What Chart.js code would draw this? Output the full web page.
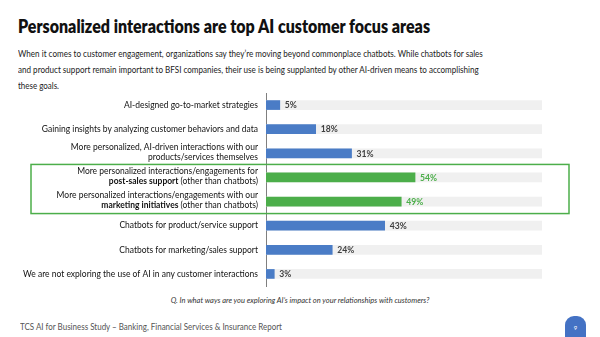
<!DOCTYPE html>
<html>
<head>
<meta charset="utf-8">
<script src="https://cdn.jsdelivr.net/npm/chart.js@4.4.0/dist/chart.umd.min.js"></script>
<style>
  body { margin: 0; width: 600px; height: 337px; overflow: hidden; background: #fff; font-family: Lato, sans-serif; position: relative; }
  .fit { position: absolute; margin: 0; white-space: nowrap; transform-origin: 0 0; line-height: 1; }
  #title { left: 18px; top: 16px; font-size: 19px; font-weight: 800; color: #111; }
  .sub { left: 18px; font-size: 10px; color: #222; }
  #question { position: absolute; top: 296px; left: 0; width: 600px; text-align: center; font-style: italic; font-size: 7.5px; color: #333; }
  #footer { left: 20px; top: 322px; font-size: 9px; color: #555; }
  #page { position: absolute; left: 565px; top: 316px; width: 21px; height: 21px; background: #4472c4; border-radius: 9px 9px 0 0; color: #fff; font-size: 6px; text-align: center; line-height: 24px; }
  #wrap { position: absolute; left: 0; top: 90px; width: 600px; height: 200px; }
</style>
</head>
<body>
<h1 id="title" class="fit" data-w="412">Personalized interactions are top AI customer focus areas</h1>
<div class="fit sub" style="top:48px" data-w="465">When it comes to customer engagement, organizations say they’re moving beyond commonplace chatbots. While chatbots for sales</div>
<div class="fit sub" style="top:64px" data-w="461">and product support remain important to BFSI companies, their use is being supplanted by other AI-driven means to accomplishing</div>
<div class="fit sub" style="top:80px" data-w="41">these goals.</div>
<div id="wrap"><canvas id="barChart"></canvas></div>
<div id="question">Q. In what ways are you exploring AI’s impact on your relationships with customers?</div>
<div id="footer" class="fit" data-w="262">TCS AI for Business Study – Banking, Financial Services &amp; Insurance Report</div>
<div id="page">9</div>
<script>
// labels: each entry is a list of lines, **text** is bold
const categories = [
  ['AI-designed go-to-market strategies'],
  ['Gaining insights by analyzing customer behaviors and data'],
  ['More personalized, AI-driven interactions with our', 'products/services themselves'],
  ['More personalized interactions/engagements for', '**post-sales support** (other than chatbots)'],
  ['More personalized interactions/engagements with our', '**marketing initiatives** (other than chatbots)'],
  ['Chatbots for product/service support'],
  ['Chatbots for marketing/sales support'],
  ['We are not exploring the use of AI in any customer interactions'],
];
const values = [5, 18, 31, 54, 49, 43, 24, 3];
const fullScale = [100, 100, 100, 100, 100, 100, 100, 100];
const highlighted = [3, 4];

const BLUE = '#4a7cc6';
const GREEN = '#4cae4a';

// squeeze the html lines horizontally to the widths seen in the reference
document.querySelectorAll('.fit').forEach(el => {
  const w = el.getBoundingClientRect().width;
  el.style.transform = 'scaleX(' + (el.dataset.w / w).toFixed(3) + ')';
});

const barColors = values.map((v, i) => highlighted.includes(i) ? GREEN : BLUE);

const ctx = document.getElementById('barChart').getContext('2d');

// label font is a bit taller than Lato's width allows, so squeeze it to ~235px for the longest line
const labelSize = 8.6;
ctx.font = labelSize + 'px Lato';
const squeeze = Math.min(1, 235 / ctx.measureText(categories[7][0]).width);

const labelPlugin = {
  id: 'labels',
  afterDraw(chart) {
    const c = chart.ctx;
    const y = chart.scales.y;
    const x = chart.scales.x;
    const right = x.left - 8;
    c.save();
    c.textBaseline = 'middle';
    c.textAlign = 'left';
    categories.forEach((lines, i) => {
      const cy = y.getPixelForValue(i);
      lines.forEach((line, j) => {
        const ly = cy + (j - (lines.length - 1) / 2) * 10 - (lines.length > 1 ? 1.5 : 0);
        const parts = line.split('**');
        let total = 0;
        parts.forEach((p, k) => {
          c.font = (k % 2 ? '700 ' : '400 ') + labelSize + 'px Lato';
          total += c.measureText(p).width;
        });
        c.save();
        c.translate(right, ly);
        c.scale(squeeze, 1);
        let px = -total;
        c.fillStyle = '#111';
        parts.forEach((p, k) => {
          c.font = (k % 2 ? '700 ' : '400 ') + labelSize + 'px Lato';
          c.fillText(p, px, 0);
          px += c.measureText(p).width;
        });
        c.restore();
      });
      // value label
      c.font = '700 ' + labelSize + 'px Lato';
      c.fillStyle = highlighted.includes(i) ? GREEN : '#404040';
      c.fillText(values[i] + '%', x.getPixelForValue(values[i]) + 5, cy + 0.5);
    });
    // green frame around highlighted rows
    const top = y.getPixelForValue(highlighted[0]) - 13;
    const bottom = y.getPixelForValue(highlighted[highlighted.length - 1]) + 12;
    c.strokeStyle = GREEN;
    c.lineWidth = 1.5;
    c.strokeRect(31, top, 538, bottom - top);
    c.restore();
  }
};

const BarChart = new Chart(ctx, {
  type: 'bar',
  data: {
    labels: categories.map(l => l.join(' ')),
    datasets: [
      {
        data: values,
        backgroundColor: barColors,
        barThickness: 9,
        grouped: false,
        order: 0,
      },
      {
        data: fullScale,
        backgroundColor: '#f0f0f0',
        barThickness: 9,
        grouped: false,
        order: 1,
      },
    ],
  },
  options: {
    indexAxis: 'y',
    responsive: true,
    maintainAspectRatio: false,
    animation: false,
    layout: {
      padding: { left: 258, right: 58, top: 3, bottom: 4 },
    },
    plugins: {
      legend: { display: false },
      tooltip: { enabled: false },
    },
    scales: {
      x: {
        min: 0,
        max: 100,
        display: false,
      },
      y: {
        grid: { display: false },
        border: { display: true, color: '#7f7f7f', width: 1 },
        ticks: { display: false },
      },
    },
  },
  plugins: [labelPlugin],
});
</script>
</body>
</html>
